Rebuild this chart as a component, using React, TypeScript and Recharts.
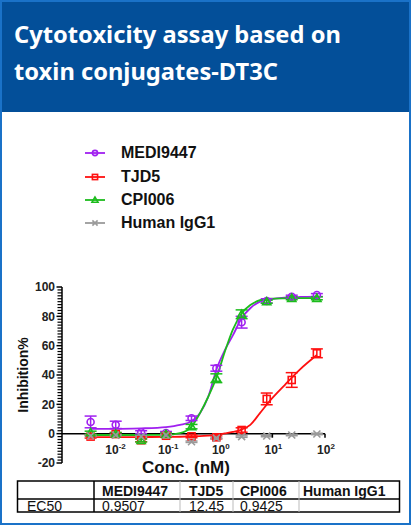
import React from 'react';
import {
  ComposedChart,
  Line,
  Scatter,
  XAxis,
  YAxis,
  ErrorBar,
  ReferenceLine,
  ReferenceDot,
} from 'recharts';

// ---------- data ----------
const concentrations = [0.0035, 0.0105, 0.032, 0.095, 0.29, 0.86, 2.6, 7.8, 23.3, 70];

const mediValues = [8, 6, 1, 0.5, 10.5, 44.6, 76, 90.5, 93.4, 94.5];
const mediErrors = [4, 2.5, 1, 1, 1.5, 2, 4, 1.5, 1, 1];

const tjd5Values = [-2, -0.3, -4.5, -1.4, -1.8, -2.5, 2.5, 23.7, 36.6, 54.8];
const tjd5Errors = [1, 1, 1, 1, 1, 1, 1.5, 4, 5, 3];

const cpiValues = [0.7, -0.2, -4.6, -0.5, 4.8, 37.8, 81.4, 90, 92.3, 92.3];
const cpiErrors = [1, 1, 1, 1, 1.5, 3, 3, 1, 1, 1];

const iggValues = [-1.5, -1, -2, -1, -5.5, -3, -2, -1.6, -0.9, -0.2];
const iggErrors = [0.5, 0.5, 0.5, 0.5, 0.5, 0.5, 0.5, 0.5, 0.5, 0.5];

// fitted curves
const curveConc = [0.0035, 0.0105, 0.032, 0.095, 0.175, 0.29, 0.42, 0.6, 0.88, 1.25, 1.77, 2.6, 3.8, 5.8, 9, 17, 34, 70];
const mediCurve = [3.2, 3.3, 3.6, 4.5, 6, 8.5, 14, 25, 44.6, 57, 67, 78.7, 85.5, 90, 91.5, 92.7, 93.2, 93.4];
const cpiCurve = [-0.9, -0.9, -0.9, -0.8, 0.3, 4.8, 14, 25, 39, 56, 71, 82, 87.7, 91, 92, 92.3, 92.4, 92.4];
const tjd5Curve = [-2.3, -2.3, -2.3, -2.2, -2.1, -1.9, -1.7, -1.3, -0.7, 0.2, 1.2, 2.8, 6, 14, 22.5, 33, 44, 53.6];

const yMajorTicks = [-20, 0, 20, 40, 60, 80, 100];
const yAllTicks = [
  -20, -18, -16, -14, -12, -10, -8, -6, -4, -2, 0, 2, 4, 6, 8, 10, 12, 14, 16, 18, 20,
  22, 24, 26, 28, 30, 32, 34, 36, 38, 40, 42, 44, 46, 48, 50, 52, 54, 56, 58, 60,
  62, 64, 66, 68, 70, 72, 74, 76, 78, 80, 82, 84, 86, 88, 90, 92, 94, 96, 98, 100,
];
const xTicks = [0.01, 0.1, 1, 10, 100];
const xTickExponents = ['-2', '-1', '0', '1', '2'];

const tableHeaders = ['', 'MEDI9447', 'TJD5', 'CPI006', 'Human IgG1'];
const tableRow = ['EC50', '0.9507', '12.45', '0.9425', ''];

const title = ['Cytotoxicity assay based on', 'toxin conjugates-DT3C'];

// ---------- series setup ----------
type Kind = 'circle' | 'square' | 'triangle' | 'cross';
const series: { name: string; color: string; kind: Kind; values: number[]; errors: number[]; curve: number[] | null }[] = [
  { name: 'MEDI9447', color: '#a020f0', kind: 'circle', values: mediValues, errors: mediErrors, curve: mediCurve },
  { name: 'TJD5', color: '#ff1010', kind: 'square', values: tjd5Values, errors: tjd5Errors, curve: tjd5Curve },
  { name: 'CPI006', color: '#1cbc1c', kind: 'triangle', values: cpiValues, errors: cpiErrors, curve: cpiCurve },
  { name: 'Human IgG1', color: '#9a9a9a', kind: 'cross', values: iggValues, errors: iggErrors, curve: null },
];

const FONT = '"Liberation Sans", Arial, sans-serif';

function drawMarker(kind: Kind, cx: number, cy: number, color: string, s: number, sw: number) {
  if (kind === 'circle') {
    return <circle cx={cx} cy={cy} r={s} fill="none" stroke={color} strokeWidth={sw} />;
  }
  if (kind === 'square') {
    return <rect x={cx - s} y={cy - s} width={2 * s} height={2 * s} fill="none" stroke={color} strokeWidth={sw} />;
  }
  if (kind === 'triangle') {
    const p = `${cx},${cy - s * 1.15} ${cx - s * 1.15},${cy + s * 0.85} ${cx + s * 1.15},${cy + s * 0.85}`;
    return <polygon points={p} fill="none" stroke={color} strokeWidth={sw} strokeLinejoin="miter" />;
  }
  return (
    <g stroke={color} strokeWidth={sw}>
      <line x1={cx - s} y1={cy - s} x2={cx + s} y2={cy + s} />
      <line x1={cx - s} y1={cy + s} x2={cx + s} y2={cy - s} />
    </g>
  );
}

function XTick(exp: string) {
  return (props: any) => {
    const { cx, cy } = props;
    return (
      <g>
        <line x1={cx} y1={cy} x2={cx} y2={cy + 4} stroke="#000" strokeWidth={1.5} />
        <text x={cx + 1} y={cy + 20} textAnchor="middle" fontFamily={FONT} fontWeight="bold" fontSize={12} fill="#222">
          10
          <tspan dy={-4.5} fontSize={8}>
            {exp}
          </tspan>
        </text>
      </g>
    );
  };
}

// y-axis tick: long tick + label for majors, short tick for minors
const YTick = (props: any) => {
  const { x, y, payload } = props;
  const major = yMajorTicks.includes(payload.value);
  return (
    <g>
      <line
        x1={x - (major ? 5.5 : 4.5)}
        y1={y}
        x2={x}
        y2={y}
        stroke="#000"
        strokeWidth={major ? 1.5 : 1.2}
      />
      {major ? (
        <text
          x={x - 7}
          y={y}
          dy="0.36em"
          textAnchor="end"
          fontFamily={FONT}
          fontWeight="bold"
          fontSize={12}
          fill="#222"
        >
          {payload.value}
        </text>
      ) : null}
    </g>
  );
};

export default function App() {
  const pointData = series.map((s) =>
    concentrations.map((c, i) => ({ x: c, y: s.values[i], err: s.errors[i] }))
  );
  const curveData = series.map((s) =>
    s.curve ? curveConc.map((c, i) => ({ x: c, y: s.curve![i] })) : null
  );

  return (
    <div style={{ position: 'absolute', left: 0, top: 0, width: 412, height: 527, background: '#fff', overflow: 'hidden' }}>
      {/* frame */}
      <div
        style={{
          position: 'absolute',
          left: 0,
          top: 0,
          width: 411,
          height: 525,
          boxSizing: 'border-box',
          border: '2px solid #1a72c8',
        }}
      />
      {/* header */}
      <div
        style={{
          position: 'absolute',
          left: 2,
          top: 2,
          width: 407,
          height: 110,
          background: '#034f99',
        }}
      />
      <svg style={{ position: 'absolute', left: 0, top: 0 }} width={412} height={112}>
        {title.map((t, i) => (
          <text
            key={i}
            x={14}
            y={43 + i * 37}
            fill="#fff"
            fontFamily='"Noto Sans", "Open Sans", sans-serif'
            fontWeight="bold"
            fontSize={23.7}
          >
            {t}
          </text>
        ))}
      </svg>

      {/* legend */}
      {series.map((s, i) => (
        <div
          key={s.name}
          style={{
            position: 'absolute',
            left: 84,
            top: 153.3 + i * 23.3 - 10,
            height: 20,
            display: 'flex',
            alignItems: 'center',
          }}
        >
          <svg width={24} height={20} style={{ display: 'block' }}>
            <line x1={1} y1={10} x2={21} y2={10} stroke={s.color} strokeWidth={1.8} />
            {drawMarker(s.kind, 11, 10, s.color, 2.6, 1.6)}
          </svg>
          <span
            style={{
              marginLeft: 13,
              fontFamily: FONT,
              fontWeight: 'bold',
              fontSize: 16,
              color: '#111',
              lineHeight: '20px',
            }}
          >
            {s.name}
          </span>
        </div>
      ))}

      {/* chart */}
      <div style={{ position: 'absolute', left: 0, top: 0 }}>
        <ComposedChart width={412} height={527} margin={{ top: 287, right: 87, bottom: 64, left: 12 }}>
          <XAxis
            dataKey="x"
            type="number"
            scale="log"
            domain={[0.001, 100]}
            allowDataOverflow
            hide
          />
          <YAxis
            dataKey="y"
            type="number"
            domain={[-20, 100]}
            ticks={yAllTicks}
            interval={0}
            width={50}
            tickSize={0}
            tickMargin={0}
            tickLine={false}
            axisLine={{ stroke: '#000', strokeWidth: 1.5 }}
            tick={YTick}
            allowDataOverflow
            label={{
              value: 'Inhibition%',
              angle: -90,
              position: 'insideLeft',
              offset: 11,
              style: { textAnchor: 'middle', fontFamily: FONT, fontWeight: 'bold', fontSize: 14, fill: '#111' },
            }}
          />
          <ReferenceLine y={0} stroke="#000" strokeWidth={1.5} />
          {xTicks.map((t, i) => (
            <ReferenceDot
              key={t}
              x={t}
              y={0}
              r={0}
              ifOverflow="visible"
              shape={XTick(xTickExponents[i])}
            />
          ))}
          {series.map((s, i) =>
            curveData[i] ? (
              <Line
                key={s.name + '-curve'}
                data={curveData[i]!}
                dataKey="y"
                type="monotone"
                stroke={s.color}
                strokeWidth={1.8}
                dot={false}
                activeDot={false}
                isAnimationActive={false}
                legendType="none"
              />
            ) : null
          )}
          {series.map((s, i) => (
            <Scatter
              key={s.name}
              name={s.name}
              data={pointData[i]}
              dataKey="y"
              isAnimationActive={false}
              shape={(p: any) => drawMarker(s.kind, p.cx, p.cy, s.color, s.kind === 'triangle' ? 3.6 : 3.5, 1.6)}
            >
              <ErrorBar dataKey="err" direction="y" width={6} stroke={s.color} strokeWidth={1.5} />
            </Scatter>
          ))}
        </ComposedChart>
      </div>

      {/* x axis title */}
      <div
        style={{
          position: 'absolute',
          left: 120,
          top: 458,
          width: 132,
          textAlign: 'center',
          fontFamily: FONT,
          fontWeight: 'bold',
          fontSize: 17,
          color: '#111',
          lineHeight: '20px',
        }}
      >
        Conc. (nM)
      </div>

      {/* EC50 table */}
      <svg style={{ position: 'absolute', left: 0, top: 0 }} width={412} height={527}>
        <rect x={17.5} y={481} width={382} height={31} fill="none" stroke="#000" strokeWidth={1.5} />
        <line x1={17.5} y1={499} x2={399.5} y2={499} stroke="#000" strokeWidth={1.3} />
        <line x1={94} y1={481} x2={94} y2={512} stroke="#000" strokeWidth={1.5} />
        <line x1={180} y1={481} x2={180} y2={512} stroke="#bbb" strokeWidth={1} />
        <line x1={233} y1={481} x2={233} y2={512} stroke="#bbb" strokeWidth={1} />
        <line x1={299} y1={481} x2={299} y2={512} stroke="#bbb" strokeWidth={1} />
        {tableHeaders.map((h, i) => (
          <text
            key={'h' + i}
            x={[27, 102, 189, 240, 303][i]}
            y={495.5}
            fontFamily={FONT}
            fontWeight="bold"
            fontSize={14}
            fill="#111"
          >
            {h}
          </text>
        ))}
        {tableRow.map((h, i) => (
          <text
            key={'r' + i}
            x={[27, 102, 189, 240, 303][i]}
            y={510.5}
            fontFamily={FONT}
            fontSize={14}
            fill="#111"
          >
            {h}
          </text>
        ))}
      </svg>
    </div>
  );
}
